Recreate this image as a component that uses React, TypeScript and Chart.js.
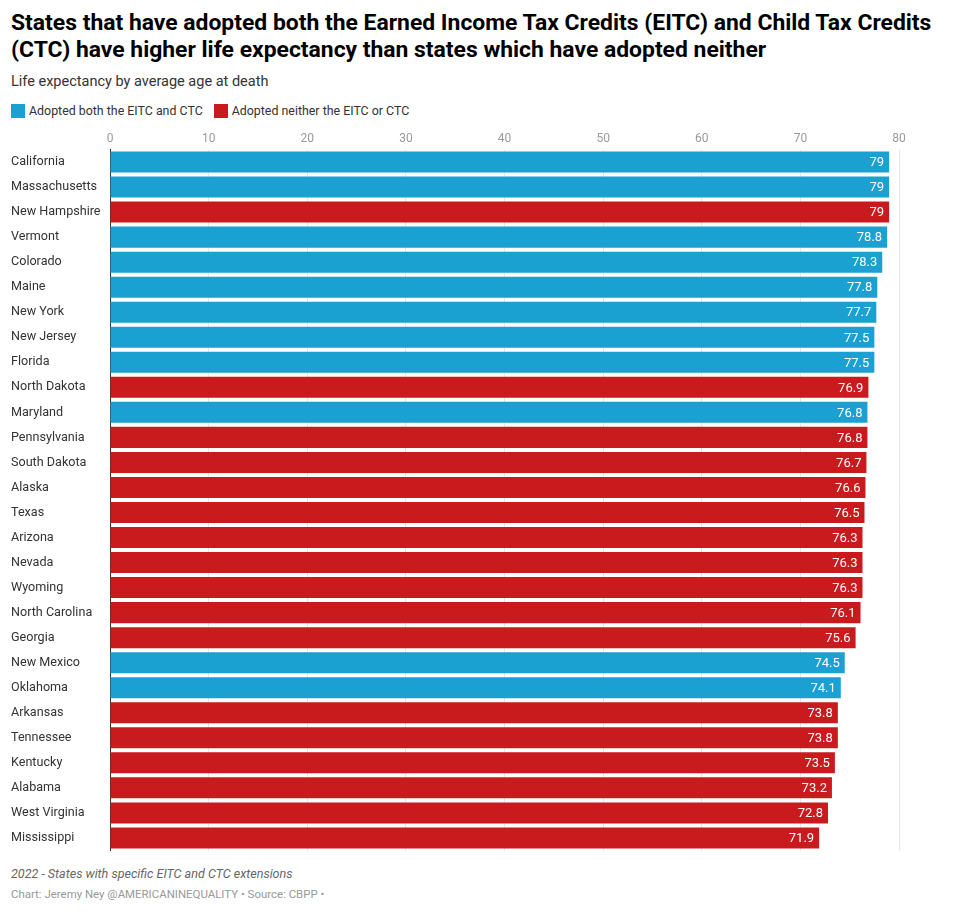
import React, { useEffect, useRef } from "react";
import { Chart, registerables } from "chart.js";

Chart.register(...registerables);

const states = [
  "California", "Massachusetts", "New Hampshire", "Vermont", "Colorado", "Maine",
  "New York", "New Jersey", "Florida", "North Dakota", "Maryland", "Pennsylvania",
  "South Dakota", "Alaska", "Texas", "Arizona", "Nevada", "Wyoming", "North Carolina",
  "Georgia", "New Mexico", "Oklahoma", "Arkansas", "Tennessee", "Kentucky", "Alabama",
  "West Virginia", "Mississippi",
];
const lifeExpectancy = [
  79, 79, 79, 78.8, 78.3, 77.8, 77.7, 77.5, 77.5, 76.9, 76.8, 76.8, 76.7, 76.6, 76.5,
  76.3, 76.3, 76.3, 76.1, 75.6, 74.5, 74.1, 73.8, 73.8, 73.5, 73.2, 72.8, 71.9,
];
const groups = [
  "both", "both", "neither", "both", "both", "both", "both", "both", "both", "neither",
  "both", "neither", "neither", "neither", "neither", "neither", "neither", "neither",
  "neither", "neither", "both", "both", "neither", "neither", "neither", "neither",
  "neither", "neither",
];
const legendLabels = ["Adopted both the EITC and CTC", "Adopted neither the EITC or CTC"];
const xTicks = [0, 10, 20, 30, 40, 50, 60, 70, 80];

const BLUE = "#1ba1d1";
const RED = "#c91b1e";
const FONT = "Roboto, 'Noto Sans', sans-serif";

const valueLabels = {
  id: "valueLabels",
  afterDatasetsDraw(chart: any) {
    const ctx = chart.ctx;
    const meta = chart.getDatasetMeta(0);
    ctx.save();
    ctx.font = `13px ${FONT}`;
    ctx.fillStyle = "#ffffff";
    ctx.textAlign = "right";
    ctx.textBaseline = "middle";
    meta.data.forEach((bar: any, i: number) => {
      ctx.fillText(String(lifeExpectancy[i]), bar.x - 5, bar.y + 1);
    });
    ctx.restore();
  },
};

export default function App() {
  const ref = useRef<HTMLCanvasElement>(null);
  useEffect(() => {
    const chart = new Chart(ref.current!, {
      type: "bar",
      data: {
        labels: states,
        datasets: [
          {
            data: lifeExpectancy,
            backgroundColor: groups.map((g) => (g === "both" ? BLUE : RED)),
            barPercentage: 0.84,
            categoryPercentage: 1,
          },
        ],
      },
      options: {
        indexAxis: "y",
        animation: false,
        responsive: false,
        maintainAspectRatio: false,
        layout: { padding: { left: 11, right: 61, top: 0, bottom: 3.5 } },
        plugins: { legend: { display: false }, tooltip: { enabled: false } },
        scales: {
          x: {
            position: "top",
            min: 0,
            max: 80,
            afterBuildTicks: (scale: any) => {
              scale.ticks = xTicks.map((v) => ({ value: v }));
            },
            afterFit: (scale: any) => {
              scale.height = 27.5;
            },
            ticks: {
              color: "#9a9a9a",
              font: { size: 12, family: FONT },
              padding: 3,
            },
            grid: { color: "#e6e6e6", drawTicks: false },
            border: { display: false },
          },
          y: {
            afterFit: (scale: any) => {
              scale.width = 99;
            },
            ticks: {
              crossAlign: "far",
              color: "#333333",
              font: { size: 12.6, family: FONT },
              padding: 0,
            },
            grid: { display: false, drawTicks: false },
            border: { display: true, color: "#333333", width: 1 },
          },
        },
      },
      plugins: [valueLabels],
    });
    return () => chart.destroy();
  }, []);

  return (
    <div
      style={{
        position: "absolute",
        left: 0,
        top: 0,
        width: 960,
        height: 913,
        background: "#fff",
        fontFamily: FONT,
        overflow: "hidden",
      }}
    >
      <div
        style={{
          position: "absolute",
          left: 11,
          top: 8.5,
          width: 945,
          fontSize: 22.9,
          lineHeight: "27px",
          fontWeight: 700,
          color: "#000",
        }}
      >
        States that have adopted both the Earned Income Tax Credits (EITC) and Child Tax Credits (CTC) have higher life expectancy than states which have adopted neither
      </div>
      <div
        style={{
          position: "absolute",
          left: 11,
          top: 73,
          fontSize: 14.5,
          lineHeight: "18px",
          color: "#333",
        }}
      >
        Life expectancy by average age at death
      </div>
      <div
        style={{
          position: "absolute",
          left: 11,
          top: 103,
          display: "flex",
          alignItems: "center",
          fontSize: 12.4,
          lineHeight: "16px",
          color: "#333",
        }}
      >
        {legendLabels.map((l, i) => (
          <div key={l} style={{ display: "flex", alignItems: "center", marginRight: 11 }}>
            <span
              style={{
                display: "inline-block",
                width: 14,
                height: 14,
                background: i === 0 ? BLUE : RED,
                marginRight: 4,
              }}
            />
            <span>{l}</span>
          </div>
        ))}
      </div>
      <canvas
        ref={ref}
        width={960}
        height={736}
        style={{ position: "absolute", left: 0, top: 122, width: 960, height: 736 }}
      />
      <div
        style={{
          position: "absolute",
          left: 11,
          top: 865,
          fontSize: 12.55,
          lineHeight: "18px",
          fontStyle: "italic",
          color: "#666",
        }}
      >
        2022 - States with specific EITC and CTC extensions
      </div>
      <div
        style={{
          position: "absolute",
          left: 11,
          top: 886,
          fontSize: 11.45,
          lineHeight: "16px",
          color: "#999",
        }}
      >
        Chart: Jeremy Ney @AMERICANINEQUALITY • Source: CBPP •
      </div>
    </div>
  );
}
